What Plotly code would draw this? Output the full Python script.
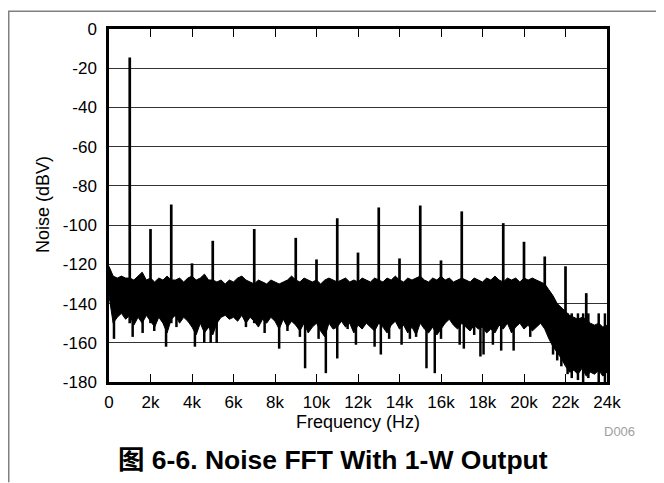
import plotly.graph_objects as go

# ---------------- data ----------------
# noise band sampled every 0.2 kHz, 0 .. 24 kHz
noise_freq_khz = [round(0.2 * i, 1) for i in range(121)]
noise_top = [
    -121, -126, -127, -126, -127, -127, -128, -126, -124, -128,
    -127, -129, -127, -128, -126, -128, -128, -127, -129, -127,
    -126, -128, -127, -125, -128, -128, -129, -128, -130, -128,
    -129, -127, -126, -128, -129, -130, -128, -129, -130, -128,
    -129, -130, -129, -128, -126, -128, -129, -127, -128, -129,
    -128, -130, -128, -127, -128, -129, -128, -127, -129, -128,
    -129, -127, -128, -129, -127, -128, -129, -127, -128, -126,
    -128, -129, -127, -128, -127, -126, -128, -129, -127, -128,
    -126, -128, -127, -129, -128, -127, -128, -129, -127, -128,
    -129, -127, -128, -126, -128, -129, -127, -128, -127, -129,
    -127, -128, -127, -128, -129, -130, -133, -136, -140, -142,
    -144, -146, -147, -148, -147, -148, -150, -151, -150, -152,
    -151,
]
noise_bottom = [
    -136, -150, -147, -145, -148, -146, -151, -147, -150, -146,
    -149, -152, -147, -150, -155, -148, -146, -150, -147, -149,
    -152, -156, -150, -155, -152, -156, -150, -147, -146, -148,
    -147, -149, -146, -150, -147, -149, -152, -148, -150, -147,
    -149, -153, -148, -152, -149, -151, -154, -150, -155, -152,
    -150, -154, -157, -150, -153, -152, -149, -152, -150, -155,
    -151, -153, -150, -152, -154, -150, -152, -155, -151, -149,
    -153, -151, -155, -152, -156, -150, -153, -155, -152, -156,
    -153, -150, -148, -151, -153, -150, -152, -154, -151, -153,
    -152, -155, -153, -155, -151, -153, -150, -155, -152, -150,
    -153, -151, -154, -152, -150, -153, -158, -162, -165, -168,
    -172, -175, -174, -176, -173, -177, -175, -176, -174, -177,
    -175,
]

# narrow downward dips below the noise band
dip_freq_khz = [0.24, 1.14, 1.62, 2.18, 2.75, 3.25, 4.14, 4.59, 4.9, 5.19,
                6.6, 7.5, 8.2, 8.6, 9.2, 9.45, 10.1, 10.45, 11.0, 11.5,
                11.9, 12.8, 13.1, 13.5, 14.1, 14.5, 14.8, 15.3, 15.7, 16.0,
                16.9, 17.1, 17.6, 17.9, 18.05, 18.5, 18.9, 19.5, 20.3, 21.4,
                21.6, 21.8, 22.1, 22.3, 22.6, 22.85, 23.1, 23.6, 23.9]
dip_level = [-158, -157, -155, -154, -162, -152, -162, -160, -160, -160,
             -152, -155, -163, -154, -157, -173, -158, -175.5, -168, -153,
             -161, -162, -166, -158, -161, -158, -157, -173, -175.5, -158,
             -161, -163, -156, -167, -166, -161, -164, -164, -157, -166,
             -169, -172, -176, -178, -179, -180, -178, -180, -180]

# tones / harmonics
tone_freq_khz = [1, 2, 3, 4, 5, 7, 9, 10, 11, 12, 13, 14, 15, 16, 17, 19, 20, 21, 22, 23]
tone_level = [-14.5, -102, -89.5, -119.5, -108, -102, -106.5, -117.5, -96.5, -114,
              -91, -117, -90, -118, -93, -99, -108.5, -116, -121, -134.7]

x_tick_vals_khz = [0, 2, 4, 6, 8, 10, 12, 14, 16, 18, 20, 22, 24]
x_tick_text = ["0", "2k", "4k", "6k", "8k", "10k", "12k", "14k", "16k", "18k", "20k", "22k", "24k"]
y_tick_vals = [0, -20, -40, -60, -80, -100, -120, -140, -160, -180]
y_tick_text = ["0", "-20", "-40", "-60", "-80", "-100", "-120", "-140", "-160", "-180"]

# ---------------- figure ----------------
FONT = "Liberation Sans, Arial, sans-serif"


def hz(seq):
    return [v * 1000 for v in seq]


fig = go.Figure()

# noise band (filled between bottom and top envelope)
fig.add_trace(go.Scatter(x=hz(noise_freq_khz), y=noise_bottom, mode="lines",
                         line=dict(color="black", width=1), showlegend=False))
fig.add_trace(go.Scatter(x=hz(noise_freq_khz), y=noise_top, mode="lines",
                         fill="tonexty", fillcolor="black",
                         line=dict(color="black", width=1), showlegend=False))

# dips
dx, dy = [], []
for f, lv in zip(dip_freq_khz, dip_level):
    dx += [f * 1000, f * 1000, None]
    dy += [-145, lv, None]
fig.add_trace(go.Scatter(x=dx, y=dy, mode="lines", line=dict(color="black", width=2.5),
                         showlegend=False))

# tones
tx, ty = [], []
for f, lv in zip(tone_freq_khz, tone_level):
    tx += [f * 1000, f * 1000, None]
    ty += [-150, lv, None]
fig.add_trace(go.Scatter(x=tx, y=ty, mode="lines", line=dict(color="black", width=2.7),
                         showlegend=False))

fig.update_layout(
    width=656, height=475, autosize=False,
    margin=dict(l=101, r=57, t=18, b=101),
    paper_bgcolor="white", plot_bgcolor="white",
    font=dict(family=FONT, size=17, color="black"),
    xaxis=dict(range=[0, 24000], tickvals=hz(x_tick_vals_khz), ticktext=x_tick_text,
               ticks="inside", ticklen=8, tickwidth=1, tickcolor="black",
               showline=True, linewidth=2.5, linecolor="black", mirror="ticks",
               showgrid=False, zeroline=False, ticklabelstandoff=3,
               tickfont=dict(family=FONT, size=17, color="black")),
    yaxis=dict(range=[-180, 0], tickvals=y_tick_vals, ticktext=y_tick_text, ticks="",
               showline=True, linewidth=2.5, linecolor="black", mirror=True,
               showgrid=True, gridcolor="#333", gridwidth=1, zeroline=False,
               ticklabelstandoff=6,
               tickfont=dict(family=FONT, size=17, color="black")),
    annotations=[
        dict(text="Noise (dBV)", x=-0.1335, y=0.5028, xref="paper", yref="paper",
             textangle=-90, showarrow=False, xanchor="center", yanchor="middle",
             font=dict(family=FONT, size=18, color="black")),
        dict(text="Frequency (Hz)", x=0.5, y=-0.1124, xref="paper", yref="paper",
             showarrow=False, xanchor="center", yanchor="middle",
             font=dict(family=FONT, size=18, color="black")),
        dict(text="D006", x=1.0241, y=-0.1404, xref="paper", yref="paper",
             showarrow=False, xanchor="center", yanchor="middle",
             font=dict(family=FONT, size=13, color="#a0a0a0")),
        dict(text="<b>图 6-6. Noise FFT With 1-W Output</b>", x=0.4498, y=-0.2219,
             xref="paper", yref="paper", showarrow=False, xanchor="center", yanchor="middle",
             font=dict(family="Liberation Sans, Arial, Noto Sans CJK SC, sans-serif",
                       size=26.5, color="black")),
    ],
    shapes=[
        dict(type="line", xref="paper", yref="paper", x0=-0.2028, x1=1.1145,
             y0=1.0506, y1=1.0506, line=dict(color="#808080", width=1.5)),
        dict(type="line", xref="paper", yref="paper", x0=-0.2013, x1=-0.2013,
             y0=1.0506, y1=-0.2837, line=dict(color="#808080", width=1.5)),
    ],
)

fig.write_html("out.html")
